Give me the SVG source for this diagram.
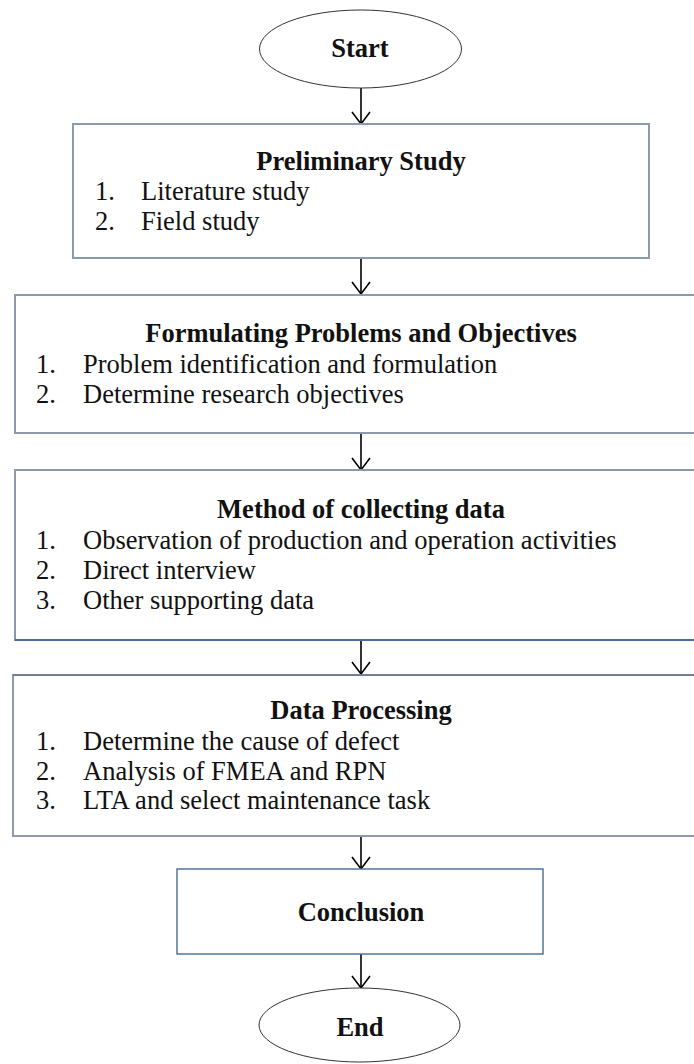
<svg xmlns="http://www.w3.org/2000/svg" width="694" height="1064" viewBox="0 0 694 1064">
<defs>
<marker id="arr" viewBox="0 0 12 18" refX="12" refY="9" markerWidth="12" markerHeight="18" markerUnits="userSpaceOnUse" orient="auto" overflow="visible">
<path d="M0,0 L12,9 L0,18" fill="none" stroke="#000" stroke-width="1.6"/>
</marker>
</defs>
<style>
.box{fill:#fff;stroke:#8d9aae;stroke-width:2}
.box2{fill:#fff;stroke:#5473a3;stroke-width:1.5}
.edge{stroke:#4d6a98;stroke-width:2}
.edge2{stroke:#6f7f98;stroke-width:2}
.oval{fill:#fff;stroke:#333;stroke-width:1}
.t{font-family:"Liberation Serif","Times New Roman",serif;font-size:26.5px;fill:#111}
.b{font-weight:bold;text-anchor:middle}
.c{stroke:#000;stroke-width:1.6;fill:none;marker-end:url(#arr)}
</style>
<rect width="694" height="1064" fill="#fff"/>
<g id="connectors">
<line class="c" x1="361" y1="88" x2="361" y2="124"/>
<line class="c" x1="361" y1="258" x2="361" y2="294"/>
<line class="c" x1="361" y1="433" x2="361" y2="470"/>
<line class="c" x1="361" y1="640" x2="361" y2="674"/>
<line class="c" x1="361" y1="836" x2="361" y2="869"/>
<line class="c" x1="361" y1="954" x2="361" y2="988"/>
</g>
<g id="start">
<ellipse class="oval" cx="360.5" cy="49" rx="101" ry="39"/>
<text class="t b" x="360" y="57">Start</text>
</g>
<g id="preliminary">
<rect class="box" x="73" y="124" width="576" height="134"/>
<text class="t b" x="361" y="170">Preliminary Study</text>
<text class="t" x="95" y="200">1.</text><text class="t" x="141" y="200">Literature study</text>
<text class="t" x="95" y="230">2.</text><text class="t" x="141" y="230">Field study</text>
</g>
<g id="formulating">
<rect class="box" x="15" y="295" width="700" height="138"/>
<text class="t b" x="361" y="342">Formulating Problems and Objectives</text>
<text class="t" x="36" y="373">1.</text><text class="t" x="83" y="373">Problem identification and formulation</text>
<text class="t" x="36" y="403">2.</text><text class="t" x="83" y="403">Determine research objectives</text>
</g>
<g id="method">
<rect class="box" x="15" y="470" width="700" height="170"/>
<line class="edge" x1="15" y1="640" x2="700" y2="640"/>
<text class="t b" x="361" y="518">Method of collecting data</text>
<text class="t" x="36" y="549">1.</text><text class="t" x="83" y="549">Observation of production and operation activities</text>
<text class="t" x="36" y="579">2.</text><text class="t" x="83" y="579">Direct interview</text>
<text class="t" x="36" y="609">3.</text><text class="t" x="83" y="609">Other supporting data</text>
</g>
<g id="processing">
<rect class="box" x="13" y="675" width="700" height="161"/>
<line class="edge2" x1="13" y1="675" x2="700" y2="675"/>
<text class="t b" x="361" y="719">Data Processing</text>
<text class="t" x="36" y="750">1.</text><text class="t" x="83" y="750">Determine the cause of defect</text>
<text class="t" x="36" y="780">2.</text><text class="t" x="83" y="780">Analysis of FMEA and RPN</text>
<text class="t" x="36" y="809">3.</text><text class="t" x="83" y="809">LTA and select maintenance task</text>
</g>
<g id="conclusion">
<rect class="box2" x="177" y="869" width="366" height="85"/>
<text class="t b" x="361" y="921">Conclusion</text>
</g>
<g id="end">
<ellipse class="oval" cx="359.5" cy="1025" rx="100.5" ry="37"/>
<text class="t b" x="360" y="1036">End</text>
</g>
</svg>
